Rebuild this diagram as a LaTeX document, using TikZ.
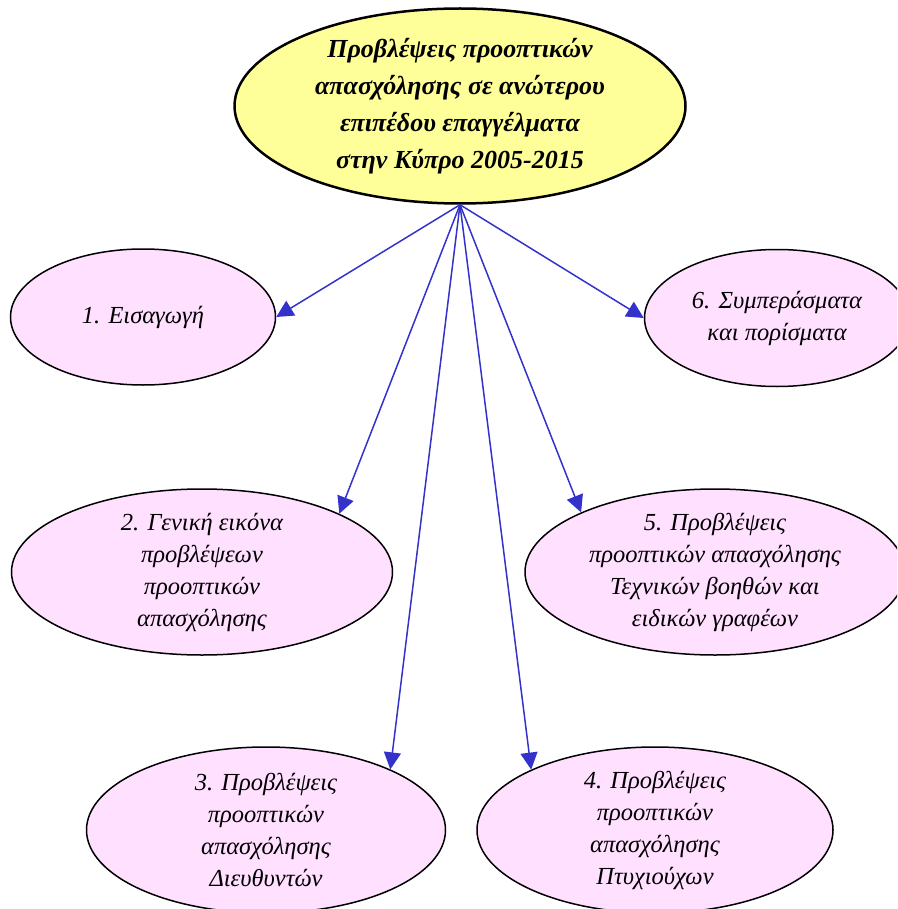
\documentclass[tikz,border=0pt]{standalone}
\usepackage{fontspec}
\setmainfont{Liberation Serif}
\usetikzlibrary{shapes.geometric,arrows.meta}

\definecolor{titlefill}{RGB}{255,255,153}
\definecolor{topicfill}{RGB}{255,224,255}
\definecolor{arrowblue}{RGB}{51,51,204}

\tikzset{
  topic/.style={ellipse,draw=black,line width=1.5pt,fill=topicfill,inner xsep=0pt,inner ysep=-10pt,align=center,
    font=\fontsize{24.5}{32}\selectfont\itshape},
  link/.style={draw=arrowblue,line width=1.5pt,-{Triangle[length=17pt,width=17pt]}}
}

\begin{document}
\begin{tikzpicture}[x=1pt,y=-1pt]
\useasboundingbox (0,0) rectangle (897,909);
\clip (0,0) rectangle (897,909);

% main theme
\node[ellipse,draw=black,line width=2.5pt,fill=titlefill,minimum width=451pt,minimum height=195pt,
  inner xsep=0pt,inner ysep=-10pt,align=center,font=\fontsize{26}{37}\selectfont\bfseries\itshape] (title) at (460,106)
  {Προβλέψεις προοπτικών\\απασχόλησης σε ανώτερου\\επιπέδου επαγγέλματα\\στην Κύπρο 2005-2015};

% chapters
\node[topic,minimum width=265pt,minimum height=136pt] (intro) at (143,317) {1. Εισαγωγή};
\node[topic,minimum width=265pt,minimum height=137pt] (concl) at (777,318) {6. Συμπεράσματα\\και πορίσματα};
\node[topic,minimum width=381pt,minimum height=166pt] (general) at (202,572)
  {2. Γενική εικόνα\\προβλέψεων\\προοπτικών\\απασχόλησης};
\node[topic,minimum width=380pt,minimum height=166pt] (techn) at (715,572)
  {5. Προβλέψεις\\προοπτικών απασχόλησης\\Τεχνικών βοηθών και\\ειδικών γραφέων};
\node[topic,minimum width=359pt,minimum height=166pt] (dir) at (266,830)
  {3. Προβλέψεις\\προοπτικών\\απασχόλησης\\Διευθυντών};
\node[topic,minimum width=356pt,minimum height=166pt] (grad) at (655,830)
  {4. Προβλέψεις\\προοπτικών\\απασχόλησης\\Πτυχιούχων};

% arrows
\draw[link] (title.south) -- (intro.east);
\draw[link] (title.south) -- (general.23);
\draw[link] (title.south) -- (dir.26);
\draw[link] (title.south) -- (grad.154);
\draw[link] (title.south) -- (techn.156);
\draw[link] (title.south) -- (concl.west);
\end{tikzpicture}
\end{document}
